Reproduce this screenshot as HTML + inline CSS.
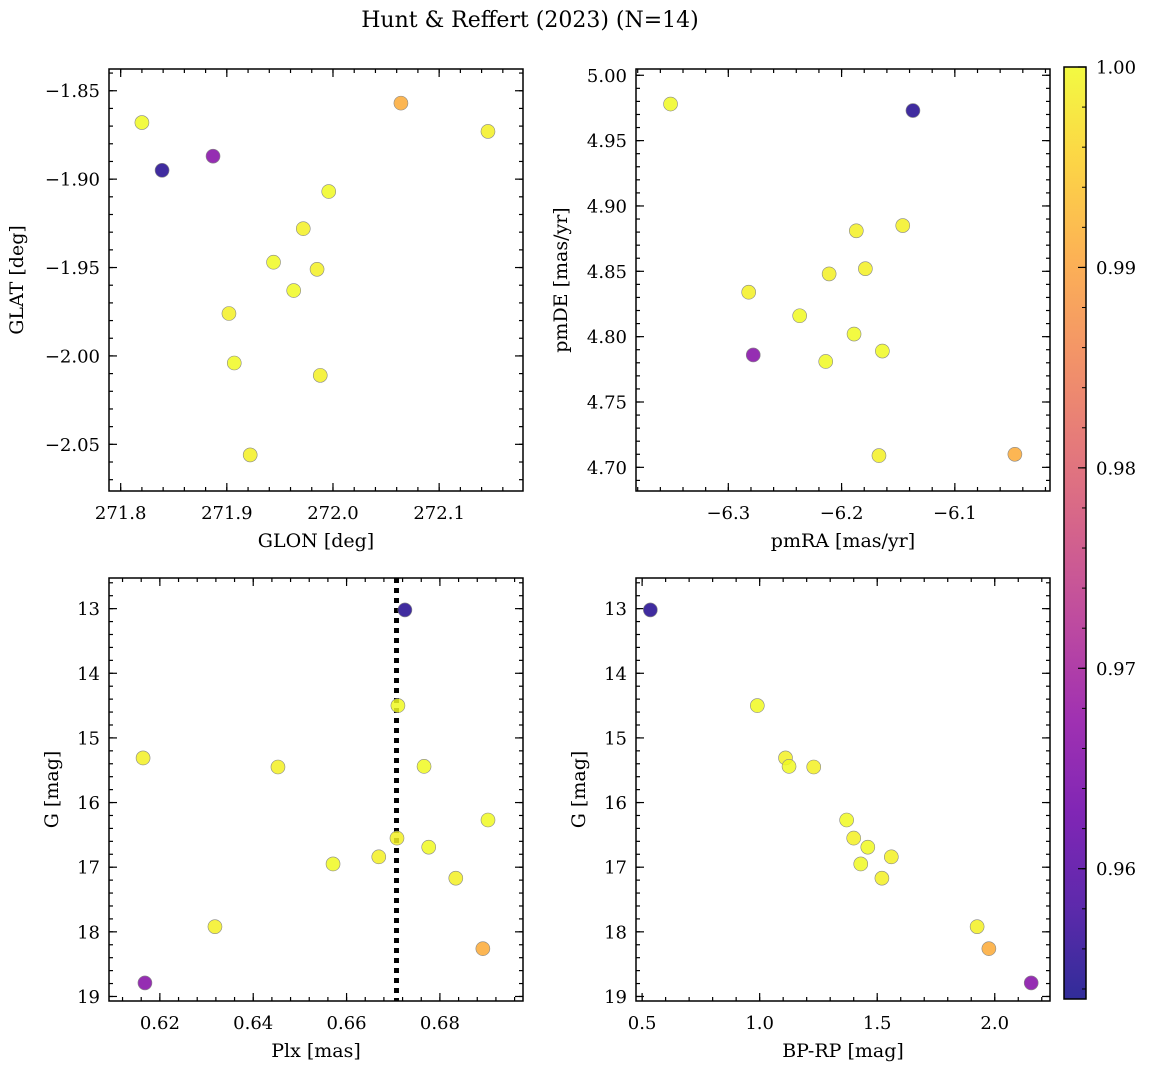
<!DOCTYPE html>
<html><head><meta charset="utf-8"><style>
html,body{margin:0;padding:0;background:#fff;}
svg{display:block;font-family:"DejaVu Serif","Liberation Serif",serif;}
</style></head><body>
<svg id="fig" width="1149" height="1067" viewBox="0 0 1149 1067" xmlns="http://www.w3.org/2000/svg">
<text x="530" y="27" font-size="22" text-anchor="middle">Hunt &amp; Reffert (2023) (N=14)</text>
</svg>
<script>
// star data: 0 navy, 1 purple, 2 orange, then yellows
const glon = [271.839,271.887,272.064,271.820,272.146,271.996,271.972,271.944,271.985,271.963,271.902,271.907,271.988,271.922];
const glat = [-1.895,-1.887,-1.857,-1.868,-1.873,-1.907,-1.928,-1.947,-1.951,-1.963,-1.976,-2.004,-2.011,-2.056];
const pmra = [-6.137,-6.278,-6.047,-6.351,-6.282,-6.237,-6.211,-6.214,-6.187,-6.189,-6.179,-6.164,-6.146,-6.167];
const pmde = [4.973,4.786,4.710,4.978,4.834,4.816,4.848,4.781,4.881,4.802,4.852,4.789,4.885,4.709];
const plx  = [0.6725,0.6168,0.6892,0.6710,0.6164,0.6766,0.6453,0.6903,0.6708,0.6776,0.6669,0.6571,0.6834,0.6318];
const gmag = [13.02,18.79,18.26,14.50,15.31,15.44,15.45,16.27,16.55,16.69,16.84,16.95,17.17,17.92];
const bprp = [0.535,2.155,1.975,0.99,1.11,1.125,1.23,1.37,1.40,1.46,1.56,1.43,1.52,1.925];
const prob = [0.955,0.966,0.991,1.0,0.999,1.0,0.999,1.0,0.999,1.0,0.999,1.0,0.999,0.999];
const plxLine = [0.6707];
const cbTicks = [0.96,0.97,0.98,0.99,1.00];

const NS="http://www.w3.org/2000/svg";
const svg=document.getElementById('fig');
function el(t,a,p){const e=document.createElementNS(NS,t);for(const k in a)e.setAttribute(k,a[k]);(p||svg).appendChild(e);return e;}
const stops=[[0,13,8,135],[0.1,65,4,157],[0.2,106,0,168],[0.3,143,13,164],[0.4,177,42,144],[0.5,204,71,120],[0.6,225,100,98],[0.7,242,132,75],[0.8,252,166,54],[0.9,252,206,37],[1,240,249,33]];
function plasma(t){t=Math.max(0,Math.min(1,t));for(let i=1;i<stops.length;i++){if(t<=stops[i][0]){const a=stops[i-1],b=stops[i],f=(t-a[0])/(b[0]-a[0]);return `rgb(${Math.round(a[1]+f*(b[1]-a[1]))},${Math.round(a[2]+f*(b[2]-a[2]))},${Math.round(a[3]+f*(b[3]-a[3]))})`;}}return 'rgb(240,249,33)';}
const vmin=0.9535,vmax=1.0;
function fmtMinus(s){return s.replace('-','\u2212');}

function panel(name,box,xd,yd,xt,yt,xminor,yminor,xdec,ydec,xlab,ylab,xs,ys,ylabX,inv){
  const [L,T,R,B]=box;
  const g=el('g',{});
  
  
  const sx=v=>L+(v-xd[0])/(xd[1]-xd[0])*(R-L);
  const sy=v=>inv? T+(v-yd[0])/(yd[1]-yd[0])*(B-T) : B-(v-yd[0])/(yd[1]-yd[0])*(B-T);
  const ticks=el('g',{stroke:'#000','stroke-width':1.2},g);
  
  
  function ticksX(step,len){const s=Math.ceil(xd[0]/step-1e-9);for(let i=s;i*step<=xd[1]+1e-9;i++){const x=sx(i*step);el('line',{x1:x,x2:x,y1:B,y2:B-len},ticks);el('line',{x1:x,x2:x,y1:T,y2:T+len},ticks);}}
  function ticksY(step,len){const lo=Math.min(yd[0],yd[1]),hi=Math.max(yd[0],yd[1]);const s=Math.ceil(lo/step-1e-9);for(let i=s;i*step<=hi+1e-9;i++){const y=sy(i*step);el('line',{x1:L,x2:L+len,y1:y,y2:y},ticks);el('line',{x1:R,x2:R-len,y1:y,y2:y},ticks);}}
  ticksX(xminor,4);ticksY(yminor,4);
  xt.forEach(v=>{const x=sx(v);el('line',{x1:x,x2:x,y1:B,y2:B-8},ticks);el('line',{x1:x,x2:x,y1:T,y2:T+8},ticks);
    const t=el('text',{x:x,y:B+28,'font-size':18,'text-anchor':'middle'},g);t.textContent=fmtMinus(v.toFixed(xdec));
    
    });
  yt.forEach(v=>{const y=sy(v);el('line',{x1:L,x2:L+8,y1:y,y2:y},ticks);el('line',{x1:R,x2:R-8,y1:y,y2:y},ticks);
    const t=el('text',{x:L-9,y:y+6.5,'font-size':18,'text-anchor':'end'},g);t.textContent=fmtMinus(v.toFixed(ydec));
    
    });
  const xl=el('text',{x:(L+R)/2,y:B+56,'font-size':19,'text-anchor':'middle'},g);xl.textContent=xlab;
  
  
  const yl=el('text',{x:ylabX,y:(T+B)/2,'font-size':19,'text-anchor':'middle',transform:`rotate(-90 ${ylabX} ${(T+B)/2})`},g);yl.textContent=ylab;
  
  
  return {g,sx,sy,L,T,R,B,xs,ys};
}
function points(p){
  const idx=prob.map((v,i)=>i).sort((a,b)=>prob[a]-prob[b]);
  idx.forEach(i=>{const c=el('circle',{cx:p.sx(p.xs[i]),cy:p.sy(p.ys[i]),r:7,fill:plasma((prob[i]-vmin)/(vmax-vmin)),'fill-opacity':0.85,stroke:'#888','stroke-width':0.6},p.g);
    
    });
}
function frame(p){const r=el('rect',{x:p.L,y:p.T,width:p.R-p.L,height:p.B-p.T,fill:'none',stroke:'#000','stroke-width':1.5},p.g);
  
  }

const p1=panel('panel-glon-glat',[109,69,523,491],[271.789,272.179],[-2.0764,-1.8377],[271.8,271.9,272.0,272.1],[-2.05,-2.0,-1.95,-1.9,-1.85],0.02,0.01,1,2,'GLON [deg]','GLAT [deg]',glon,glat,23,false);
points(p1);frame(p1);
const p2=panel('panel-pm',[636,69,1050,491],[-6.3815,-6.016],[4.6819,5.0048],[-6.3,-6.2,-6.1],[4.70,4.75,4.80,4.85,4.90,4.95,5.00],0.02,0.01,1,2,'pmRA [mas/yr]','pmDE [mas/yr]',pmra,pmde,567,false);
points(p2);frame(p2);
const p3=panel('panel-plx-g',[109,578,523,1001],[0.6091,0.6978],[12.526,19.07],[0.62,0.64,0.66,0.68],[13,14,15,16,17,18,19],0.004,0.2,2,0,'Plx [mas]','G [mag]',plx,gmag,58,true);
plxLine.forEach(v=>{const l=el('line',{x1:p3.sx(v),x2:p3.sx(v),y1:p3.T,y2:p3.B,stroke:'#000','stroke-width':5,'stroke-dasharray':'5 5'},p3.g);
  
  });
points(p3);frame(p3);
const p4=panel('panel-cmd',[636,578,1050,1001],[0.474,2.235],[12.526,19.07],[0.5,1.0,1.5,2.0],[13,14,15,16,17,18,19],0.1,0.2,1,0,'BP-RP [mag]','G [mag]',bprp,gmag,585,true);
points(p4);frame(p4);

// colorbar
const cb=el('g',{});


const CL=1064,CR=1086,CT=67,CB=999;
const defs=el('defs',{},cb);
const grad=el('linearGradient',{id:'pg',x1:0,y1:1,x2:0,y2:0},defs);
for(let i=0;i<=20;i++){el('stop',{offset:i/20,'stop-color':plasma(i/20)},grad);}
el('rect',{x:CL,y:CT,width:CR-CL,height:CB-CT,fill:'url(#pg)','fill-opacity':0.85},cb);
const cy=v=>CB-(v-vmin)/(vmax-vmin)*(CB-CT);
for(let v=0.954;v<=1.0001;v+=0.002){const y=cy(v);el('line',{x1:CR,x2:CR-4,y1:y,y2:y,stroke:'#000','stroke-width':1},cb);}
cbTicks.forEach(v=>{const y=cy(v);el('line',{x1:CR,x2:CR-8,y1:y,y2:y,stroke:'#000','stroke-width':1.2},cb);
  const t=el('text',{x:CR+10,y:y+6.5,'font-size':18},cb);t.textContent=v.toFixed(2);
  
  });
el('rect',{x:CL,y:CT,width:CR-CL,height:CB-CT,fill:'none',stroke:'#000','stroke-width':1.5},cb);
</script>
</body></html>
